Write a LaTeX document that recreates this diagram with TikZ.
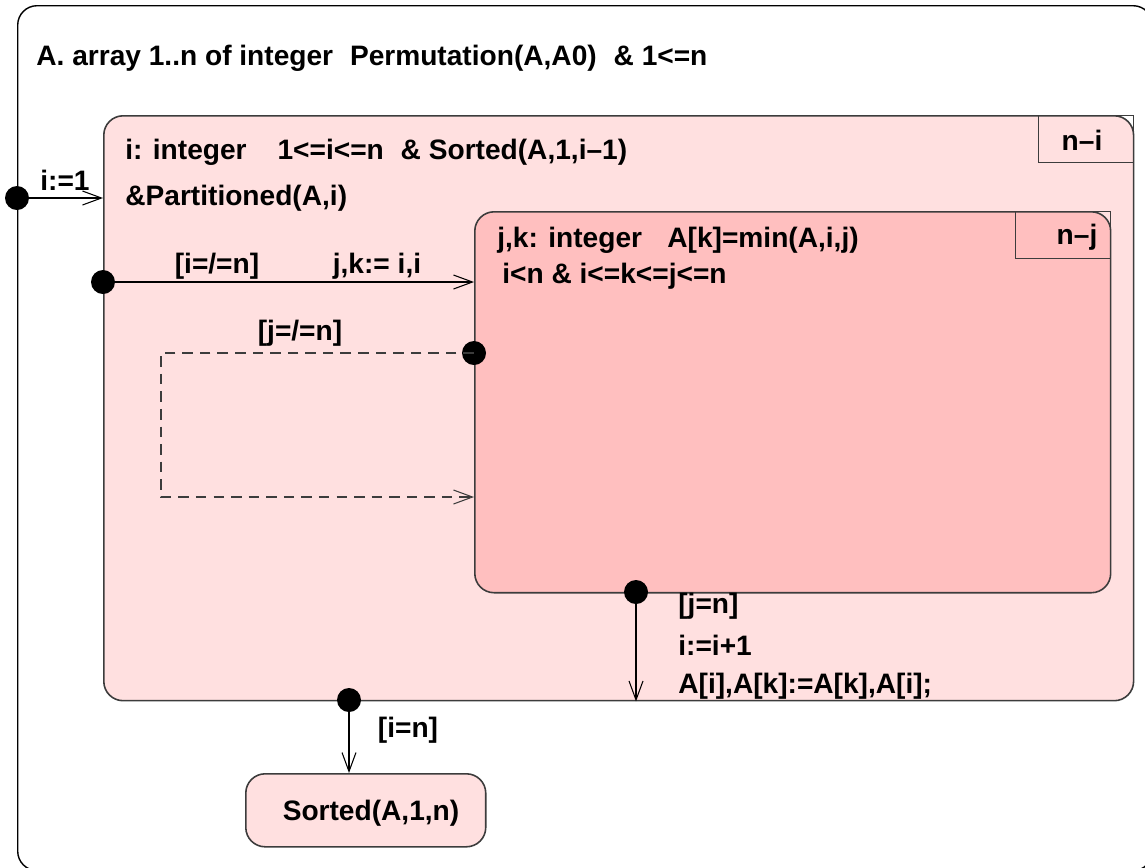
\documentclass[tikz,border=0pt]{standalone}
\usepackage{fontspec}
\setmainfont{Liberation Sans}
\usepackage{tikz}
\usetikzlibrary{arrows.meta,positioning,calc}
\definecolor{stpink}{RGB}{255,224,224}
\definecolor{strose}{RGB}{255,191,191}
\definecolor{stline}{RGB}{60,60,60}

\begin{document}
\begin{tikzpicture}[x=0.02cm, y=-0.02cm,
  every node/.style={font=\fontsize{16}{19}\selectfont\bfseries, inner sep=0pt},
  frame/.style={rectangle, rounded corners=11pt, draw=black, line width=0.8pt, anchor=north west},
  statebox/.style={rectangle, rounded corners=11pt, draw=stline, line width=0.9pt, anchor=north west},
  countbox/.style={rectangle, draw=stline, line width=0.5pt, anchor=north west,
    minimum width=1.9cm, minimum height=0.94cm},
  dot/.style={circle, fill=black, minimum size=0.48cm},
  lbl/.style={anchor=west},
  trans/.style={->, >={Straight Barb[length=3.8mm,width=2.8mm]}, line width=0.6pt}]

  \clip (0,0) rectangle (1145,867);

  % Frame
  \node[frame, minimum width=22.7cm, minimum height=17.3cm] (frame) at (17,5) {};
  \node[lbl] (decl) at (36,58) {A. array 1..n of integer\hspace{0.6em}Permutation(A,A0)\hspace{0.6em}\& 1<=n};

  % Outer loop state
  \node[statebox, fill=stpink, minimum width=20.6cm, minimum height=11.7cm] (loopi) at (103,115) {};
  \node[countbox] (ni) at (1038,115) {};
  \node (nitxt) at (1082,140) {n\textendash i};
  \node[lbl] (invi) at (125,152) {i: integer\hspace{1.1em}1<=i<=n\hspace{0.6em}\& Sorted(A,1,i\textendash 1)};
  \node[lbl] (parti) at (125,198) {\&Partitioned(A,i)};

  % Inner loop state
  \node[statebox, fill=strose, minimum width=12.72cm, minimum height=7.62cm] (loopj) at (474,211) {};
  \node[countbox] (nj) at (1015,211) {};
  \node (njtxt) at (1077,237) {n\textendash j};
  \node[lbl] (invj) at (497,240) {j,k: integer\hspace{0.9em}A[k]=min(A,i,j)};
  \node[lbl] (rngj) at (502,276) {i<n \& i<=k<=j<=n};

  % Final state
  \node[statebox, fill=stpink, minimum width=4.8cm, minimum height=1.46cm] (sorted) at (245,773) {};
  \node (sortedtxt) at (371,813) {Sorted(A,1,n)};

  % Dots
  \node[dot] (init) at (17,198) {};
  \node[dot] (enti) at (103,282) {};
  \node[dot] (dotj) at (474,353) {};
  \node[dot] (exj)  at (636,592) {};
  \node[dot] (exi)  at (349,700) {};
  \coordinate (back) at (161,497);

  % Transitions
  \draw[trans] (init.center) -- (init -| loopi.west);
  \node (t1) at (65,180) {i:=1};
  \draw[trans] (enti.center) -- (enti -| loopj.west);
  \node (t2) at (217,266) {[i=/=n]};
  \node (t3) at (377,266) {j,k:= i,i};
  \draw[trans, dashed, dash pattern=on 6pt off 4pt, draw=stline] (dotj.center) -| (back) -- (back -| loopj.west);
  \node (t4) at (300,333) {[j=/=n]};
  \draw[trans] (exj.center) -- (exj |- loopi.south);
  \node[lbl] (t5) at (678,606) {[j=n]};
  \node[lbl] (t6) at (678,645) {i:=i+1};
  \node[lbl] (t7) at (678,686) {A[i],A[k]:=A[k],A[i];};
  \draw[trans] (exi.center) -- (exi |- sorted.north);
  \node (t8) at (408,730) {[i=n]};
\end{tikzpicture}
\end{document}
